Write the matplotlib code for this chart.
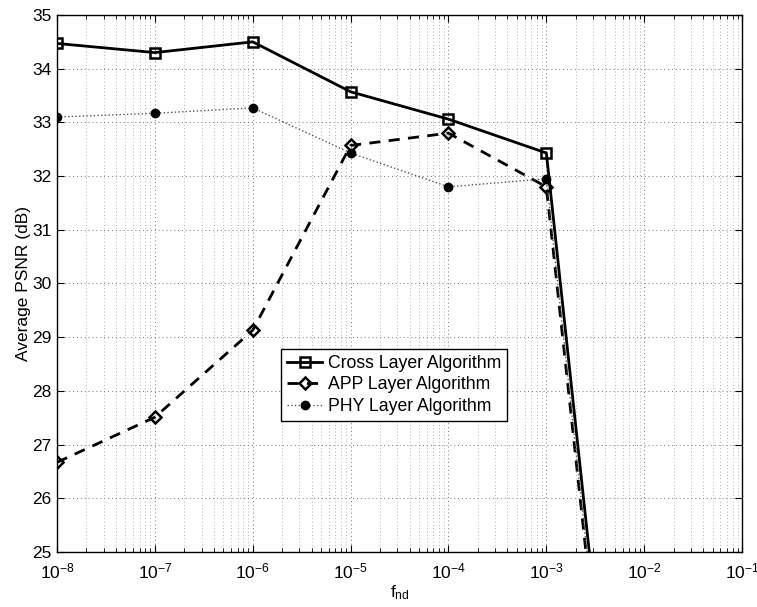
import numpy as np
import matplotlib
matplotlib.use("Agg")
import matplotlib.pyplot as plt
from matplotlib.ticker import LogLocator, NullFormatter

plt.rcParams['font.family'] = ['Liberation Sans', 'DejaVu Sans']
plt.rcParams['mathtext.fontset'] = 'custom'
plt.rcParams['mathtext.rm'] = 'Liberation Sans'
plt.rcParams['mathtext.it'] = 'Liberation Sans:italic'
plt.rcParams['mathtext.default'] = 'regular'

# data
f_nd = [1e-8, 1e-7, 1e-6, 1e-5, 1e-4, 1e-3, 1e-2]
cross_layer = [34.47, 34.30, 34.50, 33.57, 33.06, 32.43, 15.5]
app_layer = [26.67, 27.51, 29.13, 32.57, 32.80, 31.80, 15.0]
phy_layer = [33.10, 33.17, 33.27, 32.43, 31.80, 31.95, 15.2]

fig = plt.figure(figsize=(7.57, 6.07), dpi=100)
ax = fig.add_axes([0.0753, 0.0906, 0.905, 0.8847])

ax.plot(f_nd, cross_layer, color='black', lw=2, ls='-', marker='s',
        ms=7, mfc='none', mew=1.8, label='Cross Layer Algorithm')
ax.plot(f_nd, app_layer, color='black', lw=2, ls='--', dashes=(4, 3), marker='D',
        ms=6, mfc='none', mew=1.8, label='APP Layer Algorithm')
ax.plot(f_nd, phy_layer, color='#555555', lw=1, ls=':', marker='o',
        ms=6, mfc='black', mec='black', label='PHY Layer Algorithm')

ax.set_xscale('log')
ax.set_xlim(1e-8, 1e-1)
ax.set_ylim(25, 35)
ax.set_yticks(range(25, 36))
ax.xaxis.set_major_locator(LogLocator(base=10, numticks=20))
ax.xaxis.set_minor_locator(LogLocator(base=10, subs=np.arange(2, 10), numticks=20))
ax.xaxis.set_minor_formatter(NullFormatter())

ax.grid(True, which='major', ls=(0, (1, 3)), color='#777777', lw=0.7)
ax.grid(True, which='minor', axis='x', ls=(0, (1, 3)), color='#999999', lw=0.6)
ax.tick_params(which='both', direction='in', top=True, right=True, labelsize=12.5)
ax.tick_params(which='major', length=5)
ax.tick_params(which='minor', length=3)
ax.tick_params(axis='x', which='major', pad=7)
ax.tick_params(axis='y', which='major', pad=4)
for s in ax.spines.values():
    s.set_linewidth(1)

ax.set_xlabel('f$_{nd}$', fontsize=12.5, labelpad=1)
ax.set_ylabel('Average PSNR (dB)', fontsize=12.5, labelpad=1)

leg = ax.legend(loc='upper left', bbox_to_anchor=(0.314, 0.395), fontsize=12.7,
                fancybox=False, edgecolor='black', framealpha=1,
                handlelength=2.0, handletextpad=0.3, borderpad=0.35, labelspacing=0.25)
leg.get_frame().set_linewidth(1)

fig.savefig('out.png', dpi=100)
